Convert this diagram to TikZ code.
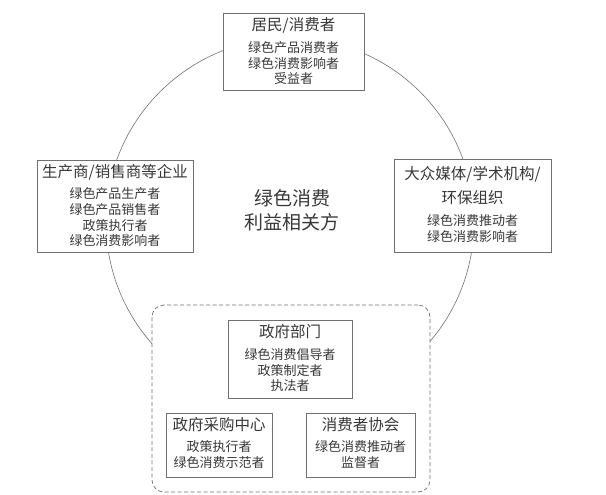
\documentclass[tikz,border=0pt]{standalone}
\usepackage{fontspec}
\setmainfont{Noto Sans CJK SC}
\definecolor{txt}{HTML}{383838}
\definecolor{boxgray}{HTML}{707070}
\begin{document}
\begin{tikzpicture}[x=1pt,y=-1pt,
  box/.style={draw=boxgray, fill=white, line width=0.8pt, inner sep=0},
  ttl/.style={font=\fontsize{15.5}{15.5}\selectfont, text=txt, inner sep=0},
  bdy/.style={font=\fontsize{13}{13}\selectfont, text=txt, inner sep=0},
  big/.style={font=\fontsize{19}{19}\selectfont, text=txt, inner sep=0}]
\useasboundingbox (0,0) rectangle (606,495);
\node[circle, draw=boxgray, line width=0.6pt, minimum size=368pt, inner sep=0] (ring) at (290,222) {};
% central text
\node[big] (c1) at (292,198) {绿色消费};
\node[big] (c2) at (292,222) {利益相关方};
% top box
\node[box, minimum width=141pt, minimum height=77pt] (resbox) at (293.5,51.5) {};
\node[ttl] (rest) at (293.5,25) {居民/消费者};
\node[bdy] (res1) at (293.5,48) {绿色产品消费者};
\node[bdy] (res2) at (293.5,63.5) {绿色消费影响者};
\node[bdy] (res3) at (293.5,79) {受益者};
% left box
\node[box, minimum width=156pt, minimum height=92pt] (entbox) at (115,206) {};
\node[ttl] (entt) at (115,172) {生产商/销售商等企业};
\node[bdy] (ent1) at (115,194) {绿色产品生产者};
\node[bdy] (ent2) at (115,210) {绿色产品销售者};
\node[bdy] (ent3) at (115,226) {政策执行者};
\node[bdy] (ent4) at (115,241) {绿色消费影响者};
% right box
\node[box, minimum width=157pt, minimum height=93pt] (medbox) at (472.5,205.5) {};
\node[ttl] (medt1) at (472.5,174) {大众媒体/学术机构/};
\node[ttl] (medt2) at (472.5,198) {环保组织};
\node[bdy] (med1) at (472.5,221) {绿色消费推动者};
\node[bdy] (med2) at (472.5,236.5) {绿色消费影响者};
% dashed group
\node[draw=boxgray, fill=white, line width=0.7pt, dash pattern=on 4pt off 2.5pt, rounded corners=12pt, minimum width=278pt, minimum height=187pt, inner sep=0] (govgrp) at (291,398.5) {};
% government
\node[box, minimum width=124pt, minimum height=78pt] (govbox) at (290,359) {};
\node[ttl] (govt) at (290,332) {政府部门};
\node[bdy] (gov1) at (290,355) {绿色消费倡导者};
\node[bdy] (gov2) at (290,370.5) {政策制定者};
\node[bdy] (gov3) at (290,386) {执法者};
% procurement
\node[box, minimum width=106pt, minimum height=64pt] (probox) at (219,445) {};
\node[ttl] (prot) at (219,425) {政府采购中心};
\node[bdy] (pro1) at (219,447) {政策执行者};
\node[bdy] (pro2) at (219,463) {绿色消费示范者};
% consumer association
\node[box, minimum width=109pt, minimum height=64pt] (assbox) at (360.5,445) {};
\node[ttl] (asst) at (360.5,425) {消费者协会};
\node[bdy] (ass1) at (360.5,447) {绿色消费推动者};
\node[bdy] (ass2) at (360.5,463) {监督者};
\end{tikzpicture}
\end{document}
